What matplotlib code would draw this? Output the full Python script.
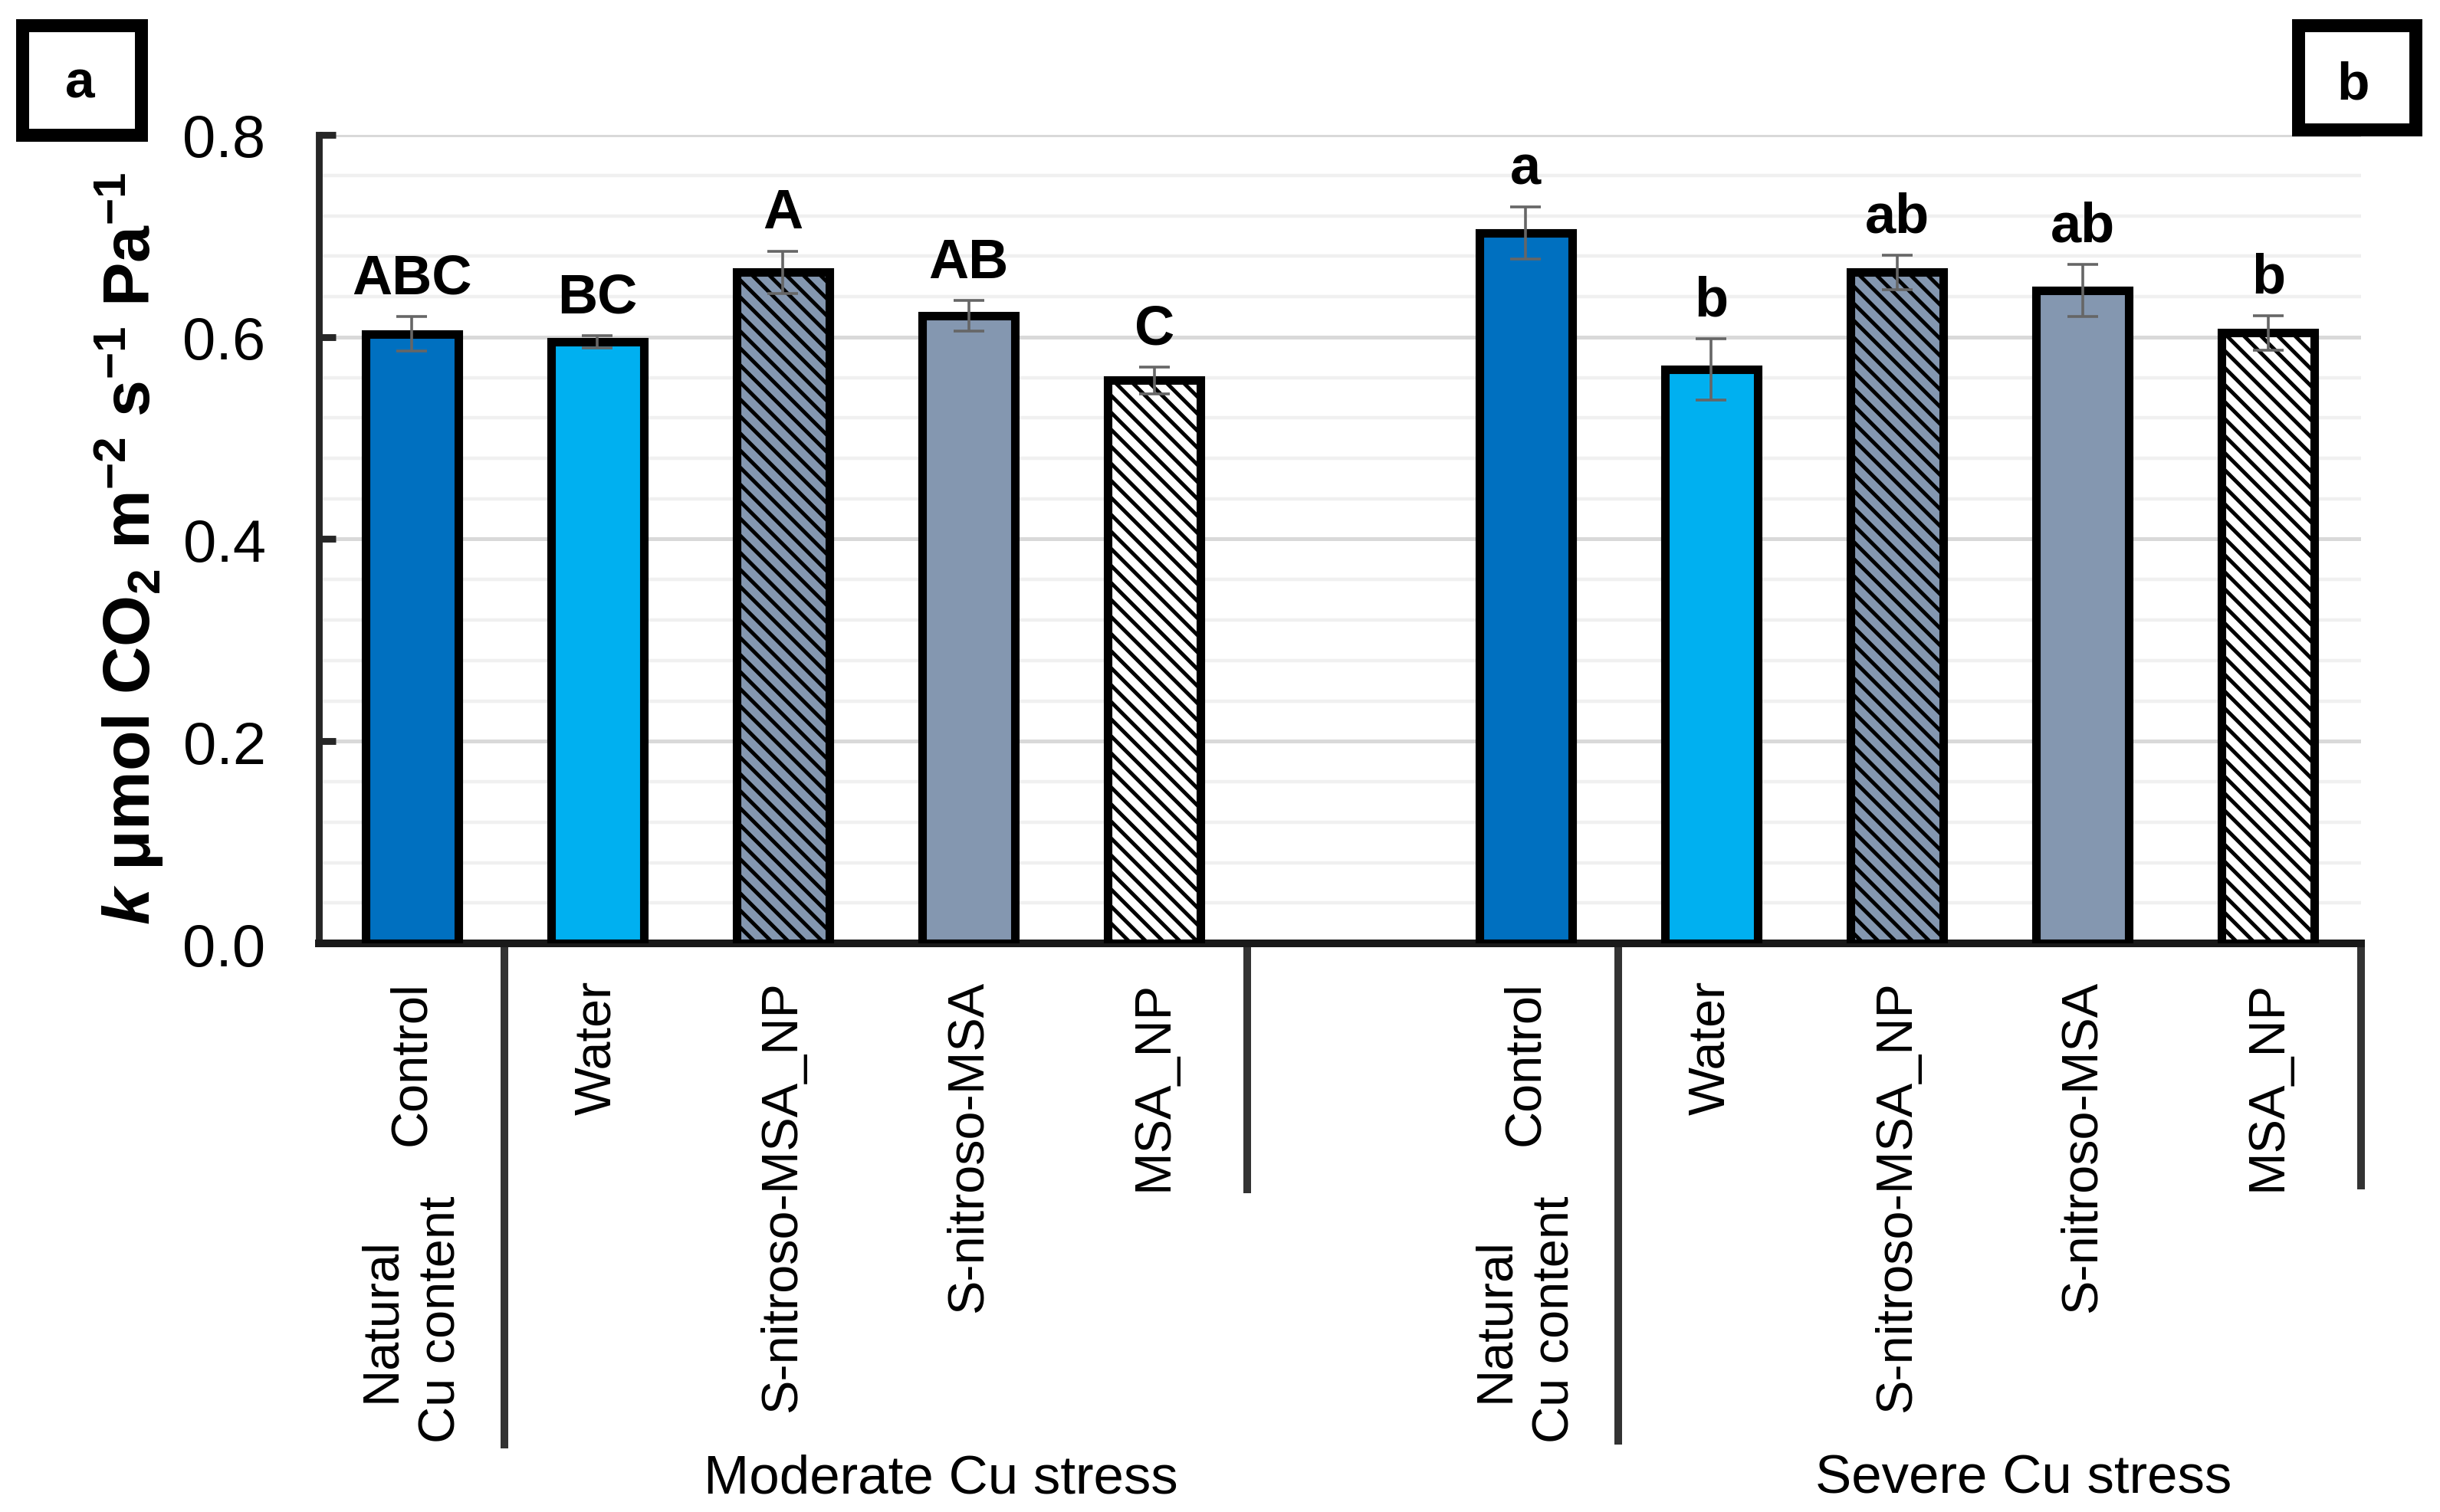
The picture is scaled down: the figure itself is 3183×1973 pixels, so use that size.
import matplotlib
matplotlib.use('Agg')
import matplotlib.pyplot as plt
from matplotlib import font_manager
from matplotlib.patches import Rectangle
from matplotlib.ticker import MultipleLocator, FormatStrFormatter

# data
treatments = ['Control', 'Water', 'S-nitroso-MSA_NP', 'S-nitroso-MSA', 'MSA_NP']
moderate = [0.603, 0.595, 0.664, 0.621, 0.557]
moderate_err = [0.017, 0.006, 0.021, 0.015, 0.013]
moderate_letters = ['ABC', 'BC', 'A', 'AB', 'C']
severe = [0.703, 0.568, 0.664, 0.646, 0.604]
severe_err = [0.026, 0.030, 0.017, 0.026, 0.017]
severe_letters = ['a', 'b', 'ab', 'ab', 'b']
group_labels = ['Moderate Cu stress', 'Severe Cu stress']
control_label = 'Natural\nCu content'

fills = ['#0070C0', '#00B0F0', '#8497B0', '#8497B0', 'white']
hatches = [None, None, '\\\\\\', None, '\\\\\\']

names = {f.name for f in font_manager.fontManager.ttflist}
base = 'Liberation Sans' if 'Liberation Sans' in names else 'DejaVu Sans'
narrow = 'Liberation Sans Narrow' in names
label_font = 'Liberation Sans Narrow' if narrow else base
label_size = 29 if narrow else 24

plt.rcParams['font.family'] = [base, 'DejaVu Sans']
plt.rcParams['hatch.linewidth'] = 1.8
plt.rcParams['mathtext.fontset'] = 'custom'
plt.rcParams['mathtext.rm'] = base + ':bold'
plt.rcParams['mathtext.it'] = base + ':italic:bold'
plt.rcParams['mathtext.bf'] = base + ':bold'

W, H = 3183, 1974
DPI = 200
fx = lambda p: p / W
fy = lambda p: 1 - p / H

fig = plt.figure(figsize=(W / DPI, H / DPI), dpi=DPI)
ax = fig.add_axes([fx(416), fy(1232), fx(3080) - fx(416), fy(177) - fy(1232)])

pos_mod = list(range(5))
pos_sev = [p + 6 for p in pos_mod]

for pos, vals, errs, letters in [(pos_mod, moderate, moderate_err, moderate_letters),
                                 (pos_sev, severe, severe_err, severe_letters)]:
    ax.bar(pos, vals, width=0.5, color=fills, edgecolor='black', linewidth=4.0,
           hatch=hatches, zorder=3)
    ax.errorbar(pos, vals, yerr=errs, fmt='none', ecolor='#666666', elinewidth=1.3,
                capsize=7.2, capthick=1.3, zorder=4)
    for x, v, e, t in zip(pos, vals, errs, letters):
        ax.annotate(t, (x, v + e), xytext=(0, 11), textcoords='offset points',
                    ha='center', va='baseline', fontsize=26, fontweight='bold')

ax.set_xlim(-0.5, 10.5)
ax.set_ylim(0, 0.8)
ax.yaxis.set_major_locator(MultipleLocator(0.2))
ax.yaxis.set_minor_locator(MultipleLocator(0.04))
ax.yaxis.set_major_formatter(FormatStrFormatter('%.1f'))
ax.yaxis.grid(True, which='major', color='#d9d9d9', lw=1.8)
ax.yaxis.grid(True, which='minor', color='#f0f0f0', lw=1.6)
ax.set_axisbelow(True)
ax.tick_params(axis='y', which='major', direction='in', length=8, width=3.2,
               color='#262626', pad=25, labelsize=28)
ax.tick_params(axis='y', which='minor', length=0)
ax.set_xticks([])
for s in ['top', 'right']:
    ax.spines[s].set_visible(False)
ax.spines['left'].set_linewidth(3.2)
ax.spines['left'].set_color('#262626')
ax.spines['bottom'].set_linewidth(3.6)
ax.spines['bottom'].set_color('#1a1a1a')

# multi-level category axis
xt = ax.get_xaxis_transform()
for i, name in enumerate(treatments):
    for x in (pos_mod[i], pos_sev[i]):
        ax.text(x, -0.0455, name, transform=xt, rotation=90, ha='center', va='top',
                fontsize=label_size, family=label_font)

em = label_size * DPI / 72
ls = (80 / em - 0.21) / 0.73
for x in (pos_mod[0], pos_sev[0]):
    ax.text(x, -0.4645, control_label, transform=xt, rotation=90, ha='center',
            va='center', multialignment='center', linespacing=ls,
            fontsize=label_size, family=label_font)

for x, t in zip([2.85, 8.68], group_labels):
    ax.text(x, -0.6787, t, transform=xt, ha='center', va='baseline', fontsize=25.5)

for x, b in zip([0.5, 4.5, 6.5, 10.5], [-0.6246, -0.309, -0.6199, -0.3043]):
    ax.plot([x, x], [0, b], transform=xt, clip_on=False, color='#333333', lw=3.6,
            solid_capstyle='butt')

fig.text(fx(168), fy(716),
         r'$\mathit{k}$ μmol CO$_{2}$ m$^{-2}$ s$^{-1}$ Pa$^{-1}$',
         rotation=90, ha='center', va='center', fontsize=31, fontweight='bold')

# panel boxes
for (x0, y0, x1, y1), tag, tx, ty in [((20, 25, 192, 185), 'a', 104, 128),
                                      ((2989, 25, 3159, 178), 'b', 3070, 129)]:
    inset = 8.5
    fig.add_artist(Rectangle((fx(x0 + inset), fy(y1 - inset)),
                             fx(x1 - x0 - 2 * inset), (y1 - y0 - 2 * inset) / H,
                             transform=fig.transFigure, fill=False, lw=6.1,
                             edgecolor='black'))
    fig.text(fx(tx), fy(ty), tag, ha='center', va='baseline', fontsize=25,
             fontweight='bold')

fig.savefig('out.png', dpi=DPI)
